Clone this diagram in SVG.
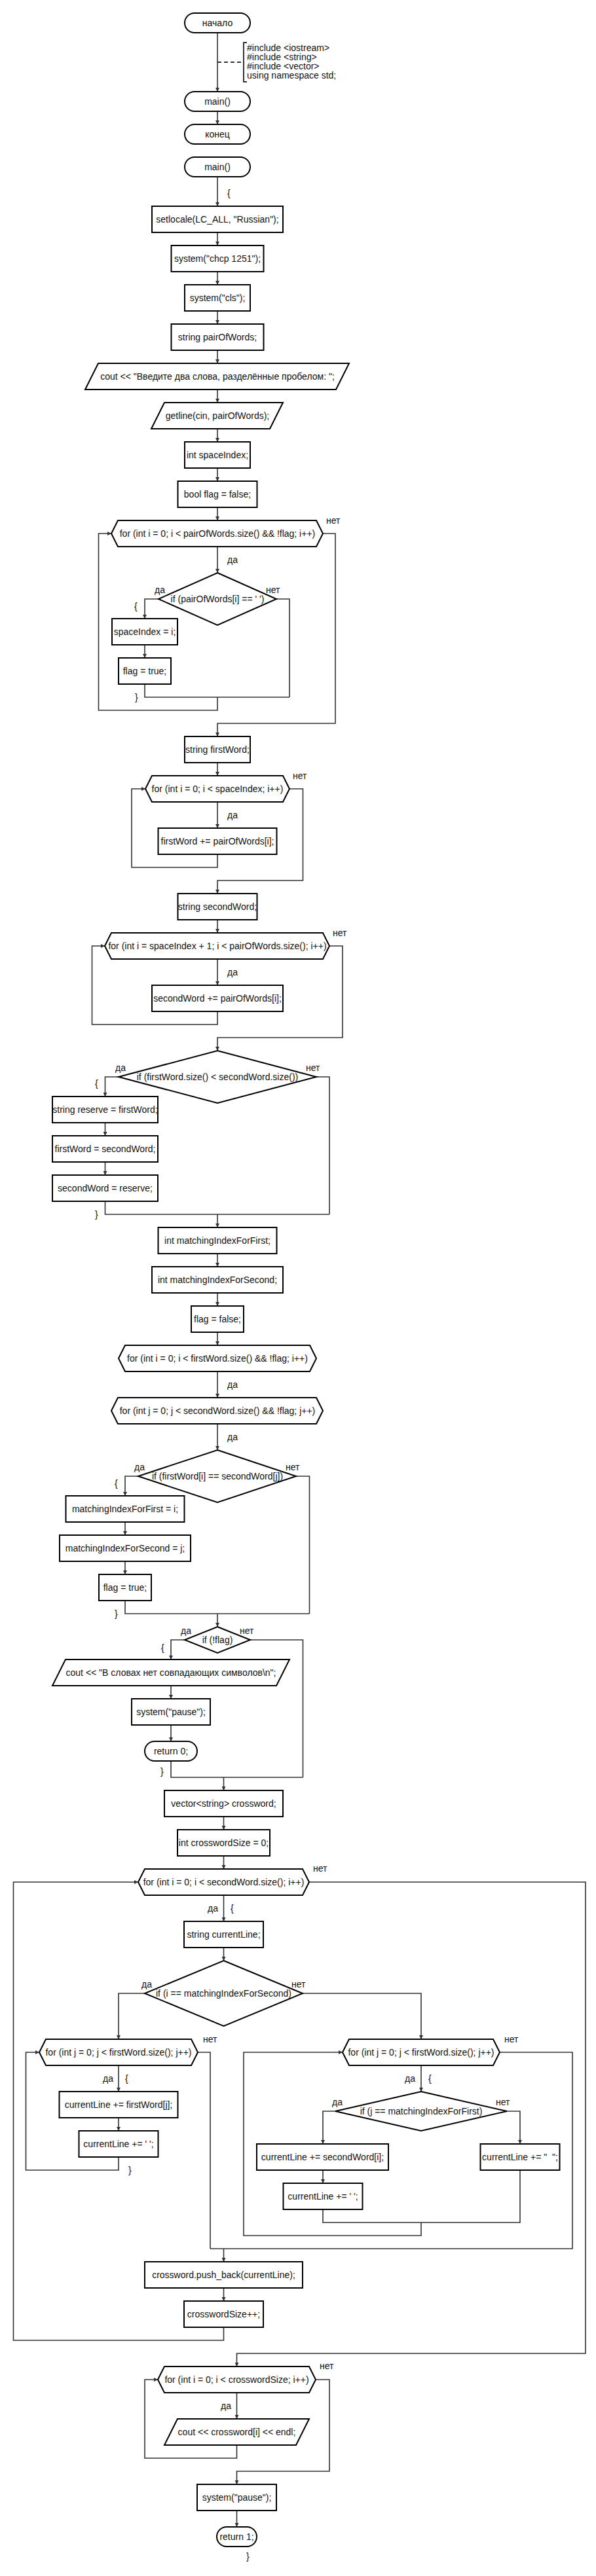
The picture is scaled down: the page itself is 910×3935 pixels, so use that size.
<svg xmlns="http://www.w3.org/2000/svg" width="910" height="3935" viewBox="0 0 910 3935">
<style>
.b{fill:#fff;stroke:#000;stroke-width:2}
.t{font-family:"Liberation Sans",Arial,sans-serif;font-size:14px;fill:#111;text-anchor:middle}
.l{font-family:"Liberation Sans",Arial,sans-serif;font-size:14px;fill:#111}
.e{text-anchor:end}
.c{fill:none;stroke:#333;stroke-width:1.6}
.a{marker-end:url(#ar)}
</style>
<defs>
<marker id="ar" viewBox="0 0 8 8" refX="8" refY="4" markerWidth="6" markerHeight="6" markerUnits="userSpaceOnUse" orient="auto"><path d="M0,0 L8,4 L0,8 z" fill="#333"/></marker>
</defs>
<rect width="910" height="3935" fill="#fff"/>
<g id="connectors">
<path class="c a" d="M332,50 V140"/>
<path class="c" d="M332,95 H372" stroke-dasharray="6 4" style="stroke-width:2"/>
<path class="c a" d="M332,170 V190"/>
<path class="c a" d="M332,270 V315"/>
<path class="c a" d="M332,355 V375"/>
<path class="c a" d="M332,415 V435"/>
<path class="c a" d="M332,475 V495"/>
<path class="c a" d="M332,535 V555"/>
<path class="c a" d="M332,595 V615"/>
<path class="c a" d="M332,655 V675"/>
<path class="c a" d="M332,715 V735"/>
<path class="c a" d="M332,775 V795"/>
<path class="c a" d="M332,835 V875"/>
<path class="c a" d="M242,915 H221 V945"/>
<path class="c" d="M422,915 H442 V1065"/>
<path class="c a" d="M221,985 V1005"/>
<path class="c" d="M221,1045 V1065 H442"/>
<path class="c a" d="M332,1065 V1085 H150.5 V815 H170"/>
<path class="c a" d="M493,815 H512 V1105 H332 V1125"/>
<path class="c a" d="M332,1165 V1185"/>
<path class="c a" d="M332,1225 V1265"/>
<path class="c a" d="M332,1305 V1325 H201 V1205 H222"/>
<path class="c a" d="M442,1205 H462.5 V1345 H332 V1365"/>
<path class="c a" d="M332,1405 V1425"/>
<path class="c a" d="M332,1465 V1505"/>
<path class="c a" d="M332,1545 V1565 H140.5 V1445 H160"/>
<path class="c a" d="M503,1445 H523 V1585 H332 V1605"/>
<path class="c a" d="M181,1645 H160.5 V1675"/>
<path class="c" d="M483,1645 H503 V1855"/>
<path class="c a" d="M160.5,1715 V1735"/>
<path class="c a" d="M160.5,1775 V1795"/>
<path class="c" d="M160.5,1835 V1855 H503"/>
<path class="c a" d="M332,1855 V1875"/>
<path class="c a" d="M332,1915 V1935"/>
<path class="c a" d="M332,1975 V1995"/>
<path class="c a" d="M332,2035 V2055"/>
<path class="c a" d="M332,2095 V2135"/>
<path class="c a" d="M332,2175 V2215"/>
<path class="c a" d="M211,2255 H191 V2285"/>
<path class="c" d="M452,2255 H472.5 V2465"/>
<path class="c a" d="M191,2325 V2345"/>
<path class="c a" d="M191,2385 V2405"/>
<path class="c" d="M191,2445 V2465 H472.5"/>
<path class="c a" d="M332,2465 V2485"/>
<path class="c a" d="M282,2505 H261 V2535"/>
<path class="c" d="M382,2505 H462.5 V2715"/>
<path class="c a" d="M261,2575 V2595"/>
<path class="c a" d="M261,2635 V2660"/>
<path class="c" d="M261,2690 V2715 H462.5"/>
<path class="c a" d="M341.5,2715 V2735"/>
<path class="c a" d="M341.5,2775 V2795"/>
<path class="c a" d="M341.5,2835 V2855"/>
<path class="c a" d="M341.5,2895 V2935"/>
<path class="c a" d="M341.5,2975 V2995"/>
<path class="c a" d="M221,3045 H181 V3115"/>
<path class="c a" d="M462,3045 H643 V3115"/>
<path class="c a" d="M181,3155 V3195"/>
<path class="c a" d="M181,3235 V3255"/>
<path class="c a" d="M181,3295 V3315 H39.5 V3135 H60"/>
<path class="c" d="M302,3135 H321 V3435"/>
<path class="c a" d="M643,3155 V3195"/>
<path class="c a" d="M512,3225 H493 V3275"/>
<path class="c a" d="M774,3225 H794 V3275"/>
<path class="c a" d="M493,3315 V3335"/>
<path class="c" d="M493,3375 V3395 H794 V3315"/>
<path class="c a" d="M643,3395 V3415 H372 V3135 H523"/>
<path class="c" d="M763,3135 H874 V3435 H321"/>
<path class="c a" d="M341.5,3435 V3455"/>
<path class="c a" d="M341.5,3495 V3515"/>
<path class="c a" d="M341.5,3555 V3575 H20.5 V2875 H211"/>
<path class="c a" d="M472,2875 H894 V3595 H361.5 V3615"/>
<path class="c a" d="M361.5,3655 V3695"/>
<path class="c a" d="M361.5,3735 V3755 H221 V3635 H241"/>
<path class="c a" d="M482,3635 H503 V3775 H361.5 V3795"/>
<path class="c a" d="M361.5,3835 V3860"/>
<text class="l" x="347" y="300">{</text>
<text class="l" x="347" y="860">да</text>
<text class="l" x="236" y="906">да</text>
<text class="l" x="406" y="906">нет</text>
<text class="l" x="205" y="931">{</text>
<text class="l" x="206" y="1070">}</text>
<text class="l" x="498" y="800">нет</text>
<text class="l" x="447" y="1190">нет</text>
<text class="l" x="347" y="1250">да</text>
<text class="l" x="508" y="1430">нет</text>
<text class="l" x="347" y="1490">да</text>
<text class="l" x="176" y="1636">да</text>
<text class="l" x="467" y="1636">нет</text>
<text class="l" x="145" y="1660">{</text>
<text class="l" x="145" y="1860">}</text>
<text class="l" x="347" y="2120">да</text>
<text class="l" x="347" y="2200">да</text>
<text class="l" x="205" y="2246">да</text>
<text class="l" x="436" y="2246">нет</text>
<text class="l" x="175" y="2271">{</text>
<text class="l" x="175" y="2470">}</text>
<text class="l" x="276" y="2496">да</text>
<text class="l" x="366" y="2496">нет</text>
<text class="l" x="246" y="2522">{</text>
<text class="l" x="245" y="2711">}</text>
<text class="l" x="478" y="2859">нет</text>
<text class="l e" x="333" y="2920">да</text>
<text class="l" x="352" y="2920">{</text>
<text class="l" x="216" y="3036">да</text>
<text class="l" x="445" y="3036">нет</text>
<text class="l" x="310" y="3120">нет</text>
<text class="l" x="770" y="3120">нет</text>
<text class="l e" x="173" y="3180">да</text>
<text class="l" x="191" y="3180">{</text>
<text class="l e" x="634" y="3180">да</text>
<text class="l" x="654" y="3180">{</text>
<text class="l" x="507" y="3216">да</text>
<text class="l" x="757" y="3216">нет</text>
<text class="l" x="196" y="3320">}</text>
<text class="l" x="488" y="3619">нет</text>
<text class="l e" x="353" y="3680">да</text>
<text class="l" x="376" y="3910">}</text>
</g>
<g id="n_start"><rect class="b" x="282" y="20" width="100" height="30" rx="15"/><text class="t" x="332" y="40">начало</text></g>
<g id="n_comment"><path d="M377,65 H372 V125 H377" fill="none" stroke="#333" stroke-width="2"/>
<text class="l" x="377" y="78">#include &lt;iostream&gt;</text>
<text class="l" x="377" y="92">#include &lt;string&gt;</text>
<text class="l" x="377" y="106">#include &lt;vector&gt;</text>
<text class="l" x="377" y="120">using namespace std;</text></g>
<g id="n_main1"><rect class="b" x="282" y="140" width="100" height="30" rx="15"/><text class="t" x="332" y="160">main()</text></g>
<g id="n_end"><rect class="b" x="282" y="190" width="100" height="30" rx="15"/><text class="t" x="332" y="210">конец</text></g>
<g id="n_main2"><rect class="b" x="282" y="240" width="100" height="30" rx="15"/><text class="t" x="332" y="260">main()</text></g>
<g id="n_setlocale"><rect class="b" x="232" y="315" width="200" height="40"/><text class="t" x="332" y="340">setlocale(LC_ALL, "Russian");</text></g>
<g id="n_chcp"><rect class="b" x="261.5" y="375" width="141" height="40"/><text class="t" x="332" y="400">system("chcp 1251");</text></g>
<g id="n_cls"><rect class="b" x="282" y="435" width="100" height="40"/><text class="t" x="332" y="460">system("cls");</text></g>
<g id="n_pair"><rect class="b" x="261.5" y="495" width="141" height="40"/><text class="t" x="332" y="520">string pairOfWords;</text></g>
<g id="n_cout1"><polygon class="b" points="150,555 533,555 513,595 130,595"/><text class="t" x="332" y="580">cout &lt;&lt; "Введите два слова, разделённые пробелом: ";</text></g>
<g id="n_getline"><polygon class="b" points="251,615 432,615 412,655 231,655"/><text class="t" x="332" y="640">getline(cin, pairOfWords);</text></g>
<g id="n_spaceIndex"><rect class="b" x="282" y="675" width="100" height="40"/><text class="t" x="332" y="700">int spaceIndex;</text></g>
<g id="n_flag1"><rect class="b" x="271.5" y="735" width="121" height="40"/><text class="t" x="332" y="760">bool flag = false;</text></g>
<g id="n_for1"><polygon class="b" points="170,815 180,795 483,795 493,815 483,835 180,835"/><text class="t" x="332" y="820">for (int i = 0; i &lt; pairOfWords.size() &amp;&amp; !flag; i++)</text></g>
<g id="n_if1"><polygon class="b" points="332,875 422,915 332,955 242,915"/><text class="t" x="332" y="920">if (pairOfWords[i] == ' ')</text></g>
<g id="n_spaceIdxI"><rect class="b" x="171" y="945" width="100" height="40"/><text class="t" x="221" y="970">spaceIndex = i;</text></g>
<g id="n_flagTrue1"><rect class="b" x="181" y="1005" width="80" height="40"/><text class="t" x="221" y="1030">flag = true;</text></g>
<g id="n_firstWord"><rect class="b" x="282" y="1125" width="100" height="40"/><text class="t" x="332" y="1150">string firstWord;</text></g>
<g id="n_for2"><polygon class="b" points="222,1205 232,1185 432,1185 442,1205 432,1225 232,1225"/><text class="t" x="332" y="1210">for (int i = 0; i &lt; spaceIndex; i++)</text></g>
<g id="n_fwAdd"><rect class="b" x="241.5" y="1265" width="181" height="40"/><text class="t" x="332" y="1290">firstWord += pairOfWords[i];</text></g>
<g id="n_secondWord"><rect class="b" x="271.5" y="1365" width="121" height="40"/><text class="t" x="332" y="1390">string secondWord;</text></g>
<g id="n_for3"><polygon class="b" points="160,1445 170,1425 493,1425 503,1445 493,1465 170,1465"/><text class="t" x="332" y="1450">for (int i = spaceIndex + 1; i &lt; pairOfWords.size(); i++)</text></g>
<g id="n_swAdd"><rect class="b" x="232" y="1505" width="200" height="40"/><text class="t" x="332" y="1530">secondWord += pairOfWords[i];</text></g>
<g id="n_if2"><polygon class="b" points="332,1605 483,1645 332,1685 181,1645"/><text class="t" x="332" y="1650">if (firstWord.size() &lt; secondWord.size())</text></g>
<g id="n_reserve"><rect class="b" x="80" y="1675" width="161" height="40"/><text class="t" x="160.5" y="1700">string reserve = firstWord;</text></g>
<g id="n_fwEq"><rect class="b" x="80" y="1735" width="161" height="40"/><text class="t" x="160.5" y="1760">firstWord = secondWord;</text></g>
<g id="n_swEq"><rect class="b" x="80" y="1795" width="161" height="40"/><text class="t" x="160.5" y="1820">secondWord = reserve;</text></g>
<g id="n_mif"><rect class="b" x="241.5" y="1875" width="181" height="40"/><text class="t" x="332" y="1900">int matchingIndexForFirst;</text></g>
<g id="n_mis"><rect class="b" x="232" y="1935" width="200" height="40"/><text class="t" x="332" y="1960">int matchingIndexForSecond;</text></g>
<g id="n_flag2"><rect class="b" x="292" y="1995" width="80" height="40"/><text class="t" x="332" y="2020">flag = false;</text></g>
<g id="n_for4"><polygon class="b" points="181,2075 191,2055 473,2055 483,2075 473,2095 191,2095"/><text class="t" x="332" y="2080">for (int i = 0; i &lt; firstWord.size() &amp;&amp; !flag; i++)</text></g>
<g id="n_for5"><polygon class="b" points="170,2155 180,2135 483,2135 493,2155 483,2175 180,2175"/><text class="t" x="332" y="2160">for (int j = 0; j &lt; secondWord.size() &amp;&amp; !flag; j++)</text></g>
<g id="n_if3"><polygon class="b" points="332,2215 452,2255 332,2295 211,2255"/><text class="t" x="332" y="2260">if (firstWord[i] == secondWord[j])</text></g>
<g id="n_mifI"><rect class="b" x="100.5" y="2285" width="181" height="40"/><text class="t" x="191" y="2310">matchingIndexForFirst = i;</text></g>
<g id="n_misJ"><rect class="b" x="91" y="2345" width="200" height="40"/><text class="t" x="191" y="2370">matchingIndexForSecond = j;</text></g>
<g id="n_flagTrue2"><rect class="b" x="151" y="2405" width="80" height="40"/><text class="t" x="191" y="2430">flag = true;</text></g>
<g id="n_if4"><polygon class="b" points="332,2485 382,2505 332,2525 282,2505"/><text class="t" x="332" y="2510">if (!flag)</text></g>
<g id="n_cout2"><polygon class="b" points="100,2535 442,2535 422,2575 80,2575"/><text class="t" x="261" y="2560">cout &lt;&lt; "В словах нет совпадающих символов\n";</text></g>
<g id="n_pause1"><rect class="b" x="201" y="2595" width="120" height="40"/><text class="t" x="261" y="2620">system("pause");</text></g>
<g id="n_ret0"><rect class="b" x="221" y="2660" width="80" height="30" rx="15"/><text class="t" x="261" y="2680">return 0;</text></g>
<g id="n_vector"><rect class="b" x="251" y="2735" width="181" height="40"/><text class="t" x="341.5" y="2760">vector&lt;string&gt; crossword;</text></g>
<g id="n_cwSize"><rect class="b" x="271" y="2795" width="141" height="40"/><text class="t" x="341.5" y="2820">int crosswordSize = 0;</text></g>
<g id="n_for6"><polygon class="b" points="211,2875 221,2855 462,2855 472,2875 462,2895 221,2895"/><text class="t" x="341.5" y="2880">for (int i = 0; i &lt; secondWord.size(); i++)</text></g>
<g id="n_curLine"><rect class="b" x="281" y="2935" width="121" height="40"/><text class="t" x="341.5" y="2960">string currentLine;</text></g>
<g id="n_if5"><polygon class="b" points="341.5,2995 462,3045 341.5,3095 221,3045"/><text class="t" x="341.5" y="3050">if (i == matchingIndexForSecond)</text></g>
<g id="n_for7"><polygon class="b" points="60,3135 70,3115 292,3115 302,3135 292,3155 70,3155"/><text class="t" x="181" y="3140">for (int j = 0; j &lt; firstWord.size(); j++)</text></g>
<g id="n_clFirst"><rect class="b" x="90.5" y="3195" width="181" height="40"/><text class="t" x="181" y="3220">currentLine += firstWord[j];</text></g>
<g id="n_clSp1"><rect class="b" x="120.5" y="3255" width="121" height="40"/><text class="t" x="181" y="3280">currentLine += ' ';</text></g>
<g id="n_for8"><polygon class="b" points="523,3135 533,3115 753,3115 763,3135 753,3155 533,3155"/><text class="t" x="643" y="3140">for (int j = 0; j &lt; firstWord.size(); j++)</text></g>
<g id="n_if6"><polygon class="b" points="643,3195 774,3225 643,3255 512,3225"/><text class="t" x="643" y="3230">if (j == matchingIndexForFirst)</text></g>
<g id="n_clSecond"><rect class="b" x="392" y="3275" width="201" height="40"/><text class="t" x="492.5" y="3300">currentLine += secondWord[i];</text></g>
<g id="n_clSp2"><rect class="b" x="733.5" y="3275" width="121" height="40"/><text class="t" x="794" y="3300">currentLine += " &#160;";</text></g>
<g id="n_clSp3"><rect class="b" x="432.5" y="3335" width="121" height="40"/><text class="t" x="493" y="3360">currentLine += ' ';</text></g>
<g id="n_push"><rect class="b" x="221" y="3455" width="241" height="40"/><text class="t" x="341.5" y="3480">crossword.push_back(currentLine);</text></g>
<g id="n_cwInc"><rect class="b" x="281" y="3515" width="121" height="40"/><text class="t" x="341.5" y="3540">crosswordSize++;</text></g>
<g id="n_for9"><polygon class="b" points="241,3635 251,3615 472,3615 482,3635 472,3655 251,3655"/><text class="t" x="361.5" y="3640">for (int i = 0; i &lt; crosswordSize; i++)</text></g>
<g id="n_cout3"><polygon class="b" points="271,3695 472,3695 452,3735 251,3735"/><text class="t" x="361.5" y="3720">cout &lt;&lt; crossword[i] &lt;&lt; endl;</text></g>
<g id="n_pause2"><rect class="b" x="301" y="3795" width="121" height="40"/><text class="t" x="361.5" y="3820">system("pause");</text></g>
<g id="n_ret1"><rect class="b" x="331" y="3860" width="61" height="30" rx="15"/><text class="t" x="361.5" y="3880">return 1;</text></g>
</svg>
